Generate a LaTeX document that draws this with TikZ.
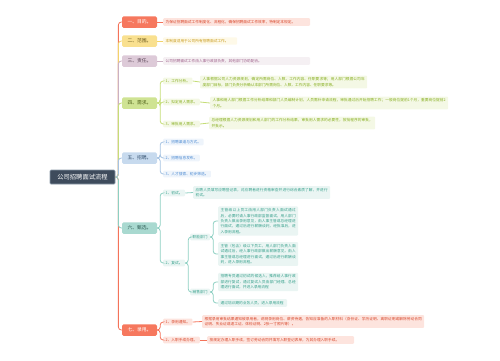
\documentclass[tikz,border=0pt]{standalone}
\usepackage{fontspec}
\setmainfont{Noto Sans CJK SC}
\XeTeXlinebreaklocale "zh"
\XeTeXlinebreakskip = 0pt plus 0.6pt
\usetikzlibrary{positioning}

\definecolor{topbg}{HTML}{3E4B5C}
\definecolor{topbd}{HTML}{8A98A8}
\definecolor{redL}{HTML}{F4735A}\definecolor{redN}{HTML}{F6785E}\definecolor{redF}{HTML}{FDE4DE}\definecolor{redT}{HTML}{D8472B}\definecolor{redD}{HTML}{FFFFFF}
\definecolor{yelL}{HTML}{F2D36B}\definecolor{yelN}{HTML}{F9E08F}\definecolor{yelF}{HTML}{FEF9E8}\definecolor{yelT}{HTML}{C99C1E}\definecolor{yelD}{HTML}{6B5A1E}
\definecolor{mauL}{HTML}{CBB0C3}\definecolor{mauN}{HTML}{DDCAD8}\definecolor{mauF}{HTML}{F5F0F3}\definecolor{mauT}{HTML}{A0628C}\definecolor{mauD}{HTML}{5A4556}
\definecolor{grnL}{HTML}{C5DD78}\definecolor{grnN}{HTML}{CFE393}\definecolor{grnF}{HTML}{F4F8E5}\definecolor{grnT}{HTML}{86AE1E}\definecolor{grnD}{HTML}{4E6018}
\definecolor{bluL}{HTML}{A6C3E2}\definecolor{bluN}{HTML}{C7DAEE}\definecolor{bluF}{HTML}{EEF4FB}\definecolor{bluT}{HTML}{4C8AD2}\definecolor{bluD}{HTML}{34506E}
\definecolor{teaL}{HTML}{8DCFC2}\definecolor{teaN}{HTML}{A9D9D0}\definecolor{teaF}{HTML}{EAF5F3}\definecolor{teaT}{HTML}{37A08C}\definecolor{teaD}{HTML}{2D5C54}

\tikzset{
	title/.style={fill=topbg, draw=topbd, line width=0.7pt, text=white, minimum width=65pt, minimum height=14pt, inner sep=0pt, rounded corners=1pt, font=\fontsize{6.3}{7}\selectfont},
	lvone/.style={fill=#1N, text=#1D, minimum width=35pt, minimum height=11.5pt, inner sep=0pt, rounded corners=1.5pt, font=\fontsize{4.8}{6}\selectfont},
	sub/.style={fill=#1F, text=#1T, anchor=west, inner xsep=2.5pt, inner ysep=1.6pt, rounded corners=1pt, font=\fontsize{3.7}{5}\selectfont},
	leaf/.style={fill=#1F, text=#1T, anchor=west, inner xsep=2.5pt, inner ysep=2pt, rounded corners=1pt, align=justify, font=\fontsize{3.7}{5.4}\selectfont},
	link/.style={draw=#1L, line width=0.8pt, rounded corners=3pt},
}

\begin{document}
\begin{tikzpicture}[x=1pt, y=-1pt]
		\useasboundingbox (0, 0) rectangle (500, 360);
		\node[title] (top) at (82.5, 177) {公司招聘面试流程};
		\node[lvone=red] (n1) at (139.5, 22) {一、目的。};
		\node[lvone=yel] (n2) at (139.5, 41) {二、范围。};
		\node[lvone=mau] (n3) at (139.5, 61) {三、责任。};
		\node[lvone=grn] (n4) at (139.5, 103) {四、需求。};
		\node[lvone=blu] (n5) at (139.5, 158) {五、招聘。};
		\node[lvone=tea] (n6) at (139.5, 228) {六、甄选。};
		\node[lvone=red] (n7) at (139.5, 330) {七、录用。};
		\coordinate (rt) at ([xshift=3pt]top.east);
		\foreach \n/\c in {n1/red, n2/yel, n3/mau, n4/grn, n5/blu, n7/red, n6/tea}{
			\draw[link=\c] (top.east) -- (rt) |- (\n.west);
		}

		\node[leaf=red, text width=142pt] (l1) at (163, 22) {为保证招聘面试工作制度化、流程化，确保招聘面试工作效率，特制定本规定。};
		\node[leaf=yel, text width=69pt] (l2) at (163, 41) {本制度适用于公司所有招聘面试工作。};
		\node[leaf=mau, text width=142pt] (l3) at (163, 61) {公司招聘面试工作由人事行政部负责，其他部门协助配合。};
		\draw[link=red] (n1.east) -- (l1.west);
		\draw[link=yel] (n2.east) -- (l2.west);
		\draw[link=mau] (n3.east) -- (l3.west);

		\node[sub=grn] (c41) at (163, 81) {1、工作分析。};
		\node[sub=grn] (c42) at (163, 102) {2、拟定用人需求。};
		\node[sub=grn] (c43) at (163, 124) {3、审批用人需求。};
		\node[leaf=grn, text width=162pt] (l41) at (200, 82) {人事根据公司人力资源规划，确定所需岗位、人数、工作内容、任职要求等；用人部门根据公司年度部门目标，部门负责分析确认本部门所需岗位、人数、工作内容、任职要求等。};
		\node[leaf=grn, text width=233pt] (l42) at (210, 103) {人事和用人部门根据工作分析结果和部门人员编制计划，人员需补申请流程，审批通过后开始招聘工作；一般岗位提前1个月，重要岗位提前2个月。};
		\node[leaf=grn, text width=161pt] (l43) at (209, 123) {总经理根据人力资源规划和用人部门的工作分析结果，审批用人需求的必要性，按批程序的审批，并批示。};
		\coordinate (f4) at ([xshift=3pt]n4.east);
		\foreach \k/\l in {c41/l41, c42/l42, c43/l43}{
			\draw[link=grn] (n4.east) -- (f4) |- (\k.west);
			\draw[link=grn] (\k.east) -- (\l.west);
		}

		\node[sub=blu] (c51) at (163, 142) {1、招聘渠道与方式。};
		\node[sub=blu] (c52) at (163, 158) {2、招聘信息发布。};
		\node[sub=blu] (c53) at (163, 174) {3、人才搜索、初步筛选。};
		\coordinate (f5) at ([xshift=3pt]n5.east);
		\foreach \k in {c51, c52, c53}{
			\draw[link=blu] (n5.east) -- (f5) |- (\k.west);
		}

		\node[sub=tea] (c61) at (163, 193) {1、初试。};
		\node[sub=tea] (c62) at (163, 263) {2、复试。};
		\node[leaf=tea, text width=132pt] (l61) at (193, 192.5) {应聘人员填写应聘登记表，对应聘者进行资格审查并进行综合素质了解，并进行初试。};
		\coordinate (f6) at ([xshift=3pt]n6.east);
		\draw[link=tea] (n6.east) -- (f6) |- (c61.west);
		\draw[link=tea] (n6.east) -- (f6) |- (c62.west);
		\draw[link=tea] (c61.east) -- (l61.west);

		\node[sub=tea] (d1) at (190, 237) {职能部门};
		\node[sub=tea] (d2) at (190, 292) {销售部门};
		\coordinate (f62) at ([xshift=3pt]c62.east);
		\draw[link=tea] (c62.east) -- (f62) |- (d1.west);
		\draw[link=tea] (c62.east) -- (f62) |- (d2.west);
		\node[leaf=tea, text width=75pt] (la) at (218, 221) {主管级以上员工由用人部门负责人面试通过后，必要时请人事行政部监督面试，用人部门负责人做出录用意见，由人事主管或总经理进行面试，通过后进行薪酬谈判，经批准后，进入录用流程。};
		\node[leaf=tea, text width=75pt] (lb) at (218, 254) {主管（包含）级以下员工，用人部门负责人面试通过后，经人事行政部做出薪酬意见，由人事主管或总经理进行面试，通过后进行薪酬谈判，进入录用流程。};
		\node[leaf=tea, text width=75pt] (lc) at (218, 282) {招聘专员通过初试的候选人，推荐给人事行政部进行复试，通过复试人员由部门经理、总经理进行面试，并进入录用流程};
		\node[leaf=tea, text width=64pt] (ld) at (218, 303) {通过培训期的业务人员，进入录用流程};
		\coordinate (g1) at ([xshift=3pt]d1.east);
		\coordinate (g2) at ([xshift=3pt]d2.east);
		\draw[link=tea] (d1.east) -- (g1) |- (la.west);
		\draw[link=tea] (d1.east) -- (g1) |- (lb.west);
		\draw[link=tea] (d2.east) -- (g2) |- (lc.west);
		\draw[link=tea] (d2.east) -- (g2) |- (ld.west);

		\node[sub=red] (c71) at (163, 322) {1、录用通知。};
		\node[sub=red] (c72) at (163, 340) {2、入职手续办理。};
		\node[leaf=red, text width=217pt] (l71) at (202, 321.5) {根据录用审批结果通知被录用者，说明录用岗位、薪资待遇，告知应准备的入职材料（身份证、学历证明、离职证明或解除劳动合同证明、失业证或退工证、体检证明、2张一寸照片等）。};
		\node[leaf=red, text width=142pt] (l72) at (207, 340) {按规定办理入职手续，签订劳动合同并填写入职登记表单，为其办理入职手续。};
		\coordinate (f7) at ([xshift=3pt]n7.east);
		\foreach \k/\l in {c71/l71, c72/l72}{
			\draw[link=red] (n7.east) -- (f7) |- (\k.west);
			\draw[link=red] (\k.east) -- (\l.west);
		}
	\end{tikzpicture}
\end{document}
